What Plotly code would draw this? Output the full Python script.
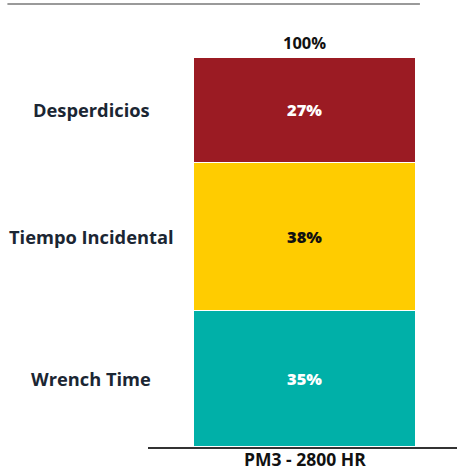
import plotly.graph_objects as go

category = ["PM3 - 2800 HR"]
segments = ["Wrench Time", "Tiempo Incidental", "Desperdicios"]
values = [35, 38, 27]
colors = ["#00B0A8", "#FFCC00", "#9B1B23"]
text_colors = ["white", "#111111", "white"]
total_label = "100%"

FONT = "Open Sans"
fig = go.Figure()
for seg, v, c, tc in zip(segments, values, colors, text_colors):
    fig.add_trace(go.Bar(
        x=category, y=[v], name=seg,
        marker=dict(color=c, line=dict(color="white", width=1.5)),
        text=[f"{v}%"], textposition="inside", insidetextanchor="middle",
        textfont=dict(family=FONT, size=16.5, color=tc, weight=800),
        width=0.72,
    ))

# category labels on the left
cum = 0
for seg, v in zip(segments, values):
    fig.add_annotation(x=-0.183, xref="paper", y=cum + v / 2, yref="y",
                       text=f"<b>{seg}</b>", showarrow=False, xanchor="center",
                       font=dict(family=FONT, size=18.3, color="#1B2633", weight=800))
    cum += v

fig.add_annotation(x=category[0], y=sum(values), yref="y", text=f"<b>{total_label}</b>",
                   showarrow=False, yanchor="bottom", yshift=1,
                   font=dict(family=FONT, size=16.5, color="#111111", weight=800))

# x category label under the axis
fig.add_annotation(x=category[0], y=0, yref="y", text=f"<b>{category[0]}</b>",
                   showarrow=False, yanchor="middle", yshift=-12, borderpad=0,
                   font=dict(family=FONT, size=17.5, color="#111111", weight=800))

fig.add_shape(type="line", xref="paper", yref="paper", x0=-0.455, x1=0.88, y0=1.136, y1=1.136,
              line=dict(color="#9A9A9A", width=2))

fig.update_layout(
    width=457, height=470, barmode="stack", showlegend=False,
    margin=dict(l=148, r=0, t=57, b=23, autoexpand=False),
    plot_bgcolor="white", paper_bgcolor="white",
    xaxis=dict(range=[-0.507, 0.493], showline=True, linecolor="#333333", linewidth=1.5,
               automargin=False, ticks="", showticklabels=False,
               showgrid=False, zeroline=False),
    yaxis=dict(range=[0, 100], visible=False, showgrid=False, automargin=False),
)
fig.write_html("out.html")
